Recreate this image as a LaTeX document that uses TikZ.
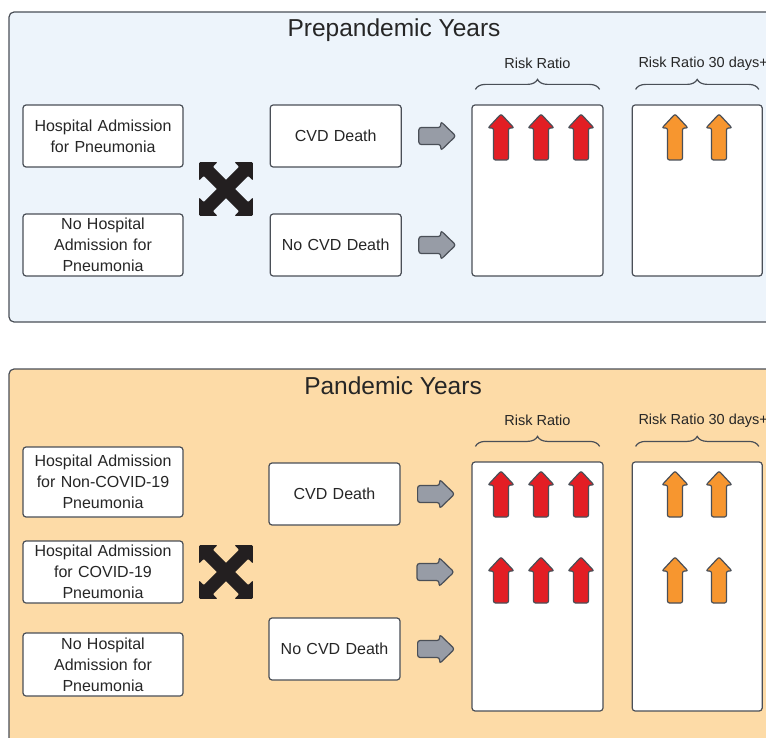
\documentclass[tikz,border=0pt]{standalone}
\usepackage{fontspec}
\setmainfont{Liberation Sans}
\usetikzlibrary{positioning,decorations.pathreplacing}

\definecolor{lineGray}{HTML}{4A4F57}
\definecolor{preBlue}{HTML}{EDF4FB}
\definecolor{panOrange}{HTML}{FDDBA7}
\definecolor{riskRed}{HTML}{E31E24}
\definecolor{riskOrange}{HTML}{F7962F}
\definecolor{arrowGray}{HTML}{979CA6}
\definecolor{crossBlack}{HTML}{231F20}
\definecolor{textDark}{HTML}{262626}

\tikzset{
  uparrow/.pic={\draw[pic actions] (-7.5,0) -- (-7.5,-32) -- (-13,-32) -- (0,-46) -- (13,-32) -- (7.5,-32) -- (7.5,0) -- cycle;},
  rightarrow/.pic={\draw[pic actions] (0,-8.5) -- (22,-8.5) -- (22,-14.5) -- (37,0) -- (22,14.5) -- (22,8.5) -- (0,8.5) -- cycle;},
  crossarrows/.pic={
    \foreach \ang in {45,-45}
      \fill[crossBlack, rotate=\ang, rounded corners=1pt] (-38,0) -- (-25,13) -- (-25,6.5) -- (25,6.5) -- (25,13) -- (38,0) -- (25,-13) -- (25,-6.5) -- (-25,-6.5) -- (-25,-13) -- cycle;}
}

\begin{document}
\begin{tikzpicture}[x=1pt, y=-1pt, node distance=86pt]
    % Styles
    \tikzstyle{box} = [rectangle, draw=lineGray, line width=1.2pt, fill=white, rounded corners=3pt, text width=156pt, align=center, minimum width=160pt, minimum height=62pt, inner sep=2pt, text=textDark, font=\fontsize{16}{21}\selectfont]
    \tikzstyle{outcome} = [box, text width=125pt, minimum width=131pt]
    \tikzstyle{riskbox} = [rectangle, draw=lineGray, line width=1.2pt, fill=white, rounded corners=3pt, minimum width=131pt]
    \tikzstyle{panel} = [draw=lineGray, line width=1.2pt, rounded corners=5pt]
    \tikzstyle{title} = [text=textDark, font=\fontsize{24.5}{30}\selectfont]
    \tikzstyle{label} = [text=textDark, font=\fontsize{14.5}{17}\selectfont]
    \tikzstyle{bracket} = [draw=lineGray, line width=1.2pt, decorate, decoration={brace, amplitude=10pt}]
    \tikzstyle{redarrow} = [draw=lineGray, line width=1.2pt, fill=riskRed, rounded corners=2pt]
    \tikzstyle{orangearrow} = [draw=lineGray, line width=1.2pt, fill=riskOrange, rounded corners=2pt]
    \tikzstyle{grayarrow} = [draw=lineGray, line width=1.2pt, fill=arrowGray, rounded corners=2.5pt]

    \useasboundingbox (0,0) rectangle (766,738);

    % Panels
    \draw[panel, fill=preBlue] (9,12) rectangle (790,322);
    \draw[panel, fill=panOrange] (9,369) rectangle (790,760);
    \node (pretitle) [title] at (394,30) {Prepandemic Years};
    \node (pantitle) [title] at (393,386) {Pandemic Years};

    % Prepandemic nodes
    \node (hosp) [box] at (103,136) {Hospital Admission\\for Pneumonia};
    \node (nohosp) [box] at (103,245) {No Hospital\\Admission for\\Pneumonia};
    \node (cvd) [outcome, right=86pt of hosp] {CVD Death};
    \node (nocvd) [outcome, right=86pt of nohosp] {No CVD Death};
    \node (rr) [riskbox, minimum height=171pt] at (537.5,190.5) {};
    \node (rrlong) [riskbox, minimum height=171pt, minimum width=130pt, right=28pt of rr] {};
    \node (rrlab) [label] at ([yshift=41]rr.north) {Risk Ratio};
    \node (rrlonglab) [label] at ([xshift=6,yshift=41]rrlong.north) {Risk Ratio 30 days+};

    % Pandemic nodes
    \node (hospnc) [box, minimum height=70pt] at (103,482) {Hospital Admission\\for Non-COVID-19\\Pneumonia};
    \node (hospc) [box] at (103,572) {Hospital Admission\\for COVID-19\\Pneumonia};
    \node (nohospp) [box, minimum height=63pt] at (103,664.5) {No Hospital\\Admission for\\Pneumonia};
    \node (cvdp) [outcome] at (334.5,494) {CVD Death};
    \node (nocvdp) [outcome] at (334.5,649) {No CVD Death};
    \node (rrp) [riskbox, minimum height=249pt] at (537.5,586.5) {};
    \node (rrlongp) [riskbox, minimum height=249pt, minimum width=130pt, right=28pt of rrp] {};
    \node (rrplab) [label] at ([yshift=41]rrp.north) {Risk Ratio};
    \node (rrlongplab) [label] at ([xshift=6,yshift=41]rrlongp.north) {Risk Ratio 30 days+};

    % Brackets
    \draw[bracket] ([xshift=4,yshift=15]rr.north west) -- ([xshift=-4,yshift=15]rr.north east);
    \draw[bracket] ([xshift=4,yshift=15]rrlong.north west) -- ([xshift=-4,yshift=15]rrlong.north east);
    \draw[bracket] ([xshift=4,yshift=15]rrp.north west) -- ([xshift=-4,yshift=15]rrp.north east);
    \draw[bracket] ([xshift=4,yshift=15]rrlongp.north west) -- ([xshift=-4,yshift=15]rrlongp.north east);

    % Crosses
    \pic at (226,189) {crossarrows};
    \pic at (226,572) {crossarrows};

    % Gray arrows
    \pic[grayarrow] at ([xshift=17]cvd.east) {rightarrow};
    \pic[grayarrow] at ([xshift=17]nocvd.east) {rightarrow};
    \pic[grayarrow] at ([xshift=17]cvdp.east) {rightarrow};
    \pic[grayarrow] at (417,572) {rightarrow};
    \pic[grayarrow] at ([xshift=17]nocvdp.east) {rightarrow};

    % Risk arrows
    \foreach \y in {160,517,603} {
      \foreach \x in {501,541,581}
        \pic[redarrow] at (\x,\y) {uparrow};
      \foreach \x in {675,719}
        \pic[orangearrow] at (\x,\y) {uparrow};
    }
\end{tikzpicture}
\end{document}
